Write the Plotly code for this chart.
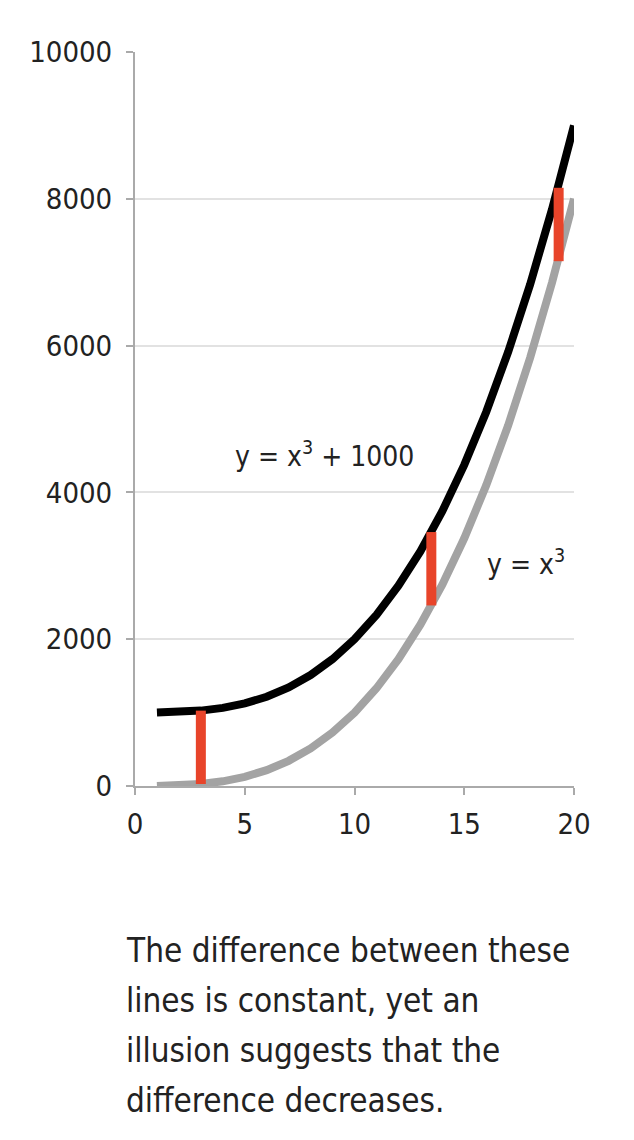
import plotly.graph_objects as go

# Data
x_vals = list(range(1, 21))
y_cubed = [1, 8, 27, 64, 125, 216, 343, 512, 729, 1000,
           1331, 1728, 2197, 2744, 3375, 4096, 4913, 5832, 6859, 8000]
y_cubed_plus = [1001, 1008, 1027, 1064, 1125, 1216, 1343, 1512, 1729, 2000,
                2331, 2728, 3197, 3744, 4375, 5096, 5913, 6832, 7859, 9000]

seg_x = [3, 13.5, 19.3]
seg_low = [27, 2460, 7150]
seg_high = [1027, 3460, 8150]

x_ticks = [0, 5, 10, 15, 20]
y_ticks = [0, 2000, 4000, 6000, 8000, 10000]
y_tick_text = ["0", "2000", "4000", "6000", "8000", "10000"]

label_upper = "y = x<sup>3</sup> + 1000"
label_lower = "y = x<sup>3</sup>"
caption_lines = [
    "The difference between these",
    "lines is constant, yet an",
    "illusion suggests that the",
    "difference decreases.",
]

FONT = "DejaVu Sans Condensed, Liberation Sans Narrow, Arial Narrow, sans-serif"

# page has an 8px body margin; layout margins compensate for it
M_L, M_T = 127, 44
M_R = 634 - 566
M_B = 1140 - 778
plot_w = 566 - M_L
plot_h = 778 - M_T

fig = go.Figure()
fig.add_trace(go.Scatter(x=x_vals, y=y_cubed, mode="lines",
                         line=dict(color="#a3a3a3", width=8), hoverinfo="skip"))
fig.add_trace(go.Scatter(x=x_vals, y=y_cubed_plus, mode="lines",
                         line=dict(color="#000000", width=8), hoverinfo="skip"))

for sx, lo, hi in zip(seg_x, seg_low, seg_high):
    fig.add_trace(go.Scatter(x=[sx, sx], y=[lo, hi], mode="lines",
                             line=dict(color="#e8442a", width=10), hoverinfo="skip"))

fig.add_annotation(x=4.45, y=4520, text=label_upper, showarrow=False,
                   xanchor="left", yanchor="middle",
                   font=dict(family=FONT, size=28, color="#222222"))
fig.add_annotation(x=15.95, y=3040, text=label_lower, showarrow=False,
                   xanchor="left", yanchor="middle",
                   font=dict(family=FONT, size=28, color="#222222"))

for i, line in enumerate(caption_lines):
    ycenter_px = 942 + i * 50
    fig.add_annotation(xref="paper", yref="paper",
                       x=(116 - M_L) / plot_w,
                       y=(778 - ycenter_px) / plot_h,
                       text=line, showarrow=False, xanchor="left", yanchor="middle",
                       font=dict(family=FONT, size=33, color="#222222"))

fig.update_layout(
    width=634, height=1140,
    margin=dict(l=M_L, r=M_R, t=M_T, b=M_B),
    paper_bgcolor="white", plot_bgcolor="white",
    showlegend=False,
    font=dict(family=FONT, color="#222222"),
    xaxis=dict(range=[0, 20], tickvals=x_ticks, showgrid=False, zeroline=False,
               showline=True, linecolor="#aaaaaa", linewidth=2, automargin=False,
               ticks="outside", ticklen=7, tickwidth=2, tickcolor="#aaaaaa",
               ticklabelstandoff=4,
               tickfont=dict(family=FONT, size=29, color="#222222")),
    yaxis=dict(range=[0, 10000], tickvals=y_ticks, ticktext=y_tick_text, showgrid=True,
               gridcolor="#e2e2e2", gridwidth=2, zeroline=False, automargin=False,
               showline=True, linecolor="#aaaaaa", linewidth=2,
               ticks="outside", ticklen=7, tickwidth=2, tickcolor="#aaaaaa",
               ticklabelstandoff=8,
               tickfont=dict(family=FONT, size=29, color="#222222")),
)

fig.write_html("out.html")
